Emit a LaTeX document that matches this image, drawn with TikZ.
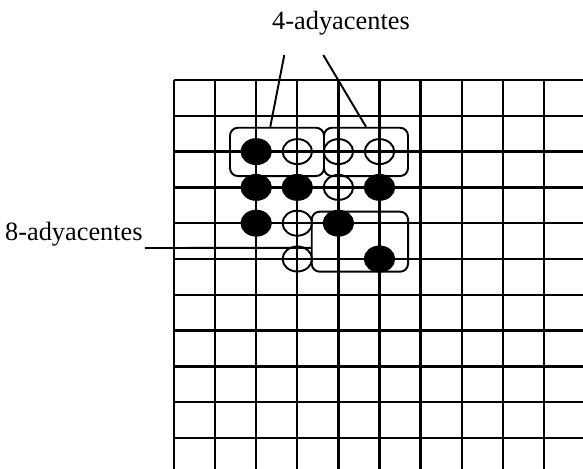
\documentclass[tikz,border=0pt]{standalone}
\usepackage{fontspec}
\setmainfont{Liberation Serif}
\usetikzlibrary{positioning,shapes.geometric,calc}
\tikzset{
  pixon/.style={ellipse, draw, fill=black, line width=1.1pt, minimum width=0.59cm, minimum height=0.5cm, inner sep=0pt},
  pixoff/.style={ellipse, draw, line width=1.1pt, minimum width=0.59cm, minimum height=0.5cm, inner sep=0pt},
  regionbox/.style={draw, rounded corners=4.5pt, line width=1.1pt, inner sep=0pt},
  leader/.style={line width=1.1pt},
  lbl/.style={inner sep=0pt, font=\fontsize{15}{18}\selectfont}
}

\begin{document}
\begin{tikzpicture}[x=0.02cm,y=-0.02cm]

\useasboundingbox (0,0) rectangle (583,469);

% grid
\foreach \i in {0,...,9} {
  \draw[line width=1.35pt] ({174+41.1*\i},80) -- ({174+41.1*\i},469);
}
\foreach \j in {0,...,10} {
  \draw[line width=1.35pt] (174,{80+35.8*\j}) -- (583,{80+35.8*\j});
}

% pixels set (filled) and not set (open)
\foreach \c/\r in {2/2, 2/3, 3/3, 5/3, 2/4, 4/4, 5/5} {
  \node[pixon] (on\c\r) at ({174+41.1*\c},{80+35.8*\r}) {};
}
\foreach \c/\r in {3/2, 4/2, 5/2, 4/3, 3/4, 3/5} {
  \node[pixoff] (off\c\r) at ({174+41.1*\c},{80+35.8*\r}) {};
}

% neighbourhood boxes
\node[regionbox, minimum width=1.88cm, minimum height=0.966cm] (boxA) at (277,151.9) {};
\node[regionbox, minimum width=1.68cm, minimum height=0.966cm] (boxB) at (366,151.9) {};
\node[regionbox, minimum width=1.926cm, minimum height=1.2cm] (boxC) at (359.9,241.7) {};

% labels
\node[lbl, anchor=base] (lab4) at (341,30) {4-adyacentes};
\node[lbl, anchor=base east] (lab8) at (143,241) {8-adyacentes};

\coordinate (l4a) at (284.3,55);
\coordinate (l4b) at (323.3,55);
\coordinate (l8) at (145,248);

\draw[leader] (l4a) -- ($(boxA.north west)!0.43!(boxA.north east)$);
\draw[leader] (l4b) -- (boxB.north);
\draw[leader] (l8) -- ($(boxC.south west)!0.4!(boxC.north west)$);

\end{tikzpicture}
\end{document}
